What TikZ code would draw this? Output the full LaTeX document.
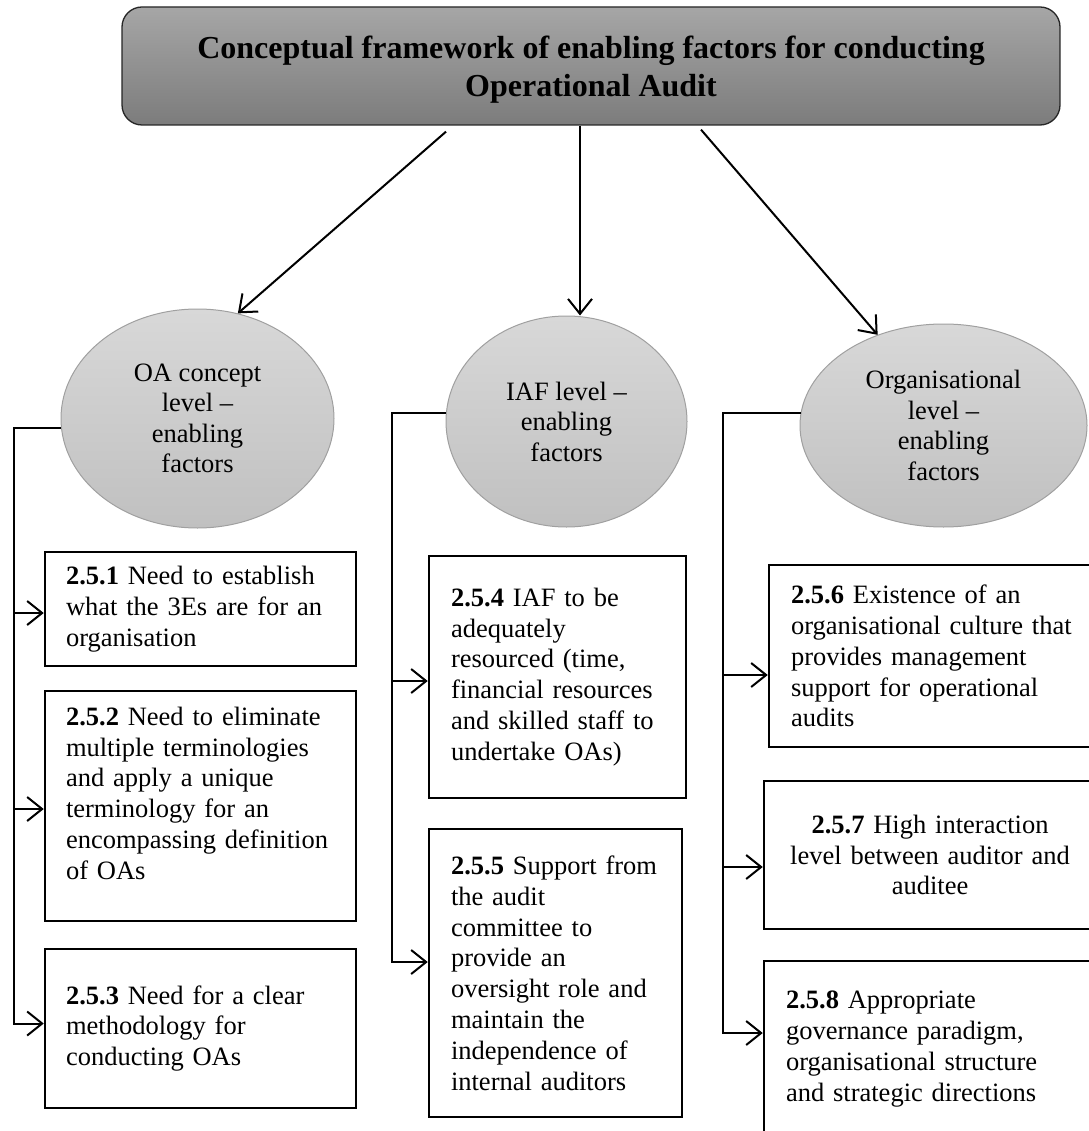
\documentclass[tikz,border=0pt]{standalone}
\usepackage{fontspec}
\setmainfont{Liberation Serif}
\usetikzlibrary{arrows.meta,calc,shapes.geometric}

\definecolor{titletop}{RGB}{166,166,166}
\definecolor{titlebot}{RGB}{124,124,124}
\definecolor{elltop}{RGB}{216,216,216}
\definecolor{ellbot}{RGB}{192,192,192}
\definecolor{ellline}{RGB}{160,160,160}

\tikzset{
  headline/.style={draw=black!85, line width=1.3pt, rounded corners=20pt,
    top color=titletop, bottom color=titlebot, align=center,
    font=\fontsize{32}{38}\selectfont\bfseries, inner sep=0pt},
  level/.style={ellipse, draw=ellline, line width=1pt, top color=elltop,
    bottom color=ellbot, align=center, inner sep=0pt,
    font=\fontsize{26.5}{30.5}\selectfont},
  factor/.style={draw=black, line width=2.5pt, fill=white, inner ysep=0pt,
    font=\fontsize{26.5}{30.8}\selectfont},
  conn/.style={draw=black, line width=2pt},
  arr/.style={conn, -{Straight Barb[length=15pt,width=24pt,line width=2pt]}},
}

\begin{document}
\begin{tikzpicture}[x=1pt,y=-1pt]
\useasboundingbox (0,0) rectangle (1088,1131);

% heading
\node[headline, minimum width=938pt, minimum height=118pt] (title) at (591,66)
  {\rule{0pt}{30pt}Conceptual framework of enabling factors for conducting\\Operational Audit};

% the three levels
\node[level, minimum width=273pt, minimum height=219pt] (e1) at (197.5,418.5)
  {OA concept\\level --\\enabling\\factors};
\node[level, minimum width=241pt, minimum height=211pt] (e2) at (566.5,421.5)
  {IAF level --\\enabling\\factors};
\node[level, minimum width=287pt, minimum height=203pt] (e3) at (943.5,425.5)
  {Organisational\\level --\\enabling\\factors};

% arrows from the heading to the levels
\coordinate (t1) at ($(title.south)+(-145,6)$);
\coordinate (t2) at ($(title.south)+(-11,0)$);
\coordinate (t3) at ($(title.south)+(110,4)$);
\draw[arr] (t1) -- (e1.69);
\draw[arr] (t2) -- (t2 |- e2.north);
\draw[arr] (t3) -- (e3.126);

% OA concept level factors
\node[factor, minimum width=311pt, minimum height=114pt, text width=269pt,
  inner xsep=21pt, align=left] (b1) at (200.5,609)
  {\textbf{2.5.1} Need to establish\\what the 3Es are for an\\organisation};
\node[factor, minimum width=311pt, minimum height=230pt, text width=269pt,
  inner xsep=21pt, align=left] (b2) at (200.5,806)
  {\textbf{2.5.2} Need to eliminate\\multiple terminologies\\and apply a unique\\terminology for an\\encompassing definition\\of OAs\\[-4.8pt]\mbox{}};
\node[factor, minimum width=311pt, minimum height=159pt, text width=269pt,
  inner xsep=21pt, align=left] (b3) at (200.5,1028.5)
  {\textbf{2.5.3} Need for a clear\\methodology for\\conducting OAs};

% IAF level factors
\node[factor, minimum width=257pt, minimum height=242pt, text width=213pt,
  inner xsep=22pt, align=left] (b4) at (557.5,677)
  {\textbf{2.5.4} IAF to be\\adequately\\resourced (time,\\financial resources\\and skilled staff to\\undertake OAs)};
\node[factor, minimum width=253pt, minimum height=288pt, text width=209pt,
  inner xsep=22pt, align=left] (b5) at (555.5,973)
  {\textbf{2.5.5} Support from\\the audit\\committee to\\provide an\\oversight role and\\maintain the\\independence of\\internal auditors};

% organisational level factors
\node[factor, minimum width=331pt, minimum height=182pt, text width=287pt,
  inner xsep=22pt, align=left] (b6) at (934.5,656)
  {\textbf{2.5.6} Existence of an\\organisational culture that\\provides management\\support for operational\\audits};
\node[factor, minimum width=332pt, minimum height=148pt, text width=300pt,
  inner xsep=16pt, align=center] (b7) at (930,855)
  {\textbf{2.5.7} High interaction\\level between auditor and\\auditee};
\node[factor, minimum width=336pt, minimum height=176pt, text width=292pt,
  inner xsep=22pt, align=left] (b8) at (932,1049)
  {\textbf{2.5.8} Appropriate\\governance paradigm,\\organisational structure\\and strategic directions};

% spines
\coordinate (sA) at (14,0);
\coordinate (sB) at (392,0);
\coordinate (sC) at (723,0);

% arrow targets on the boxes
\coordinate (p1) at ([yshift=-4pt]b1.west);
\coordinate (p2) at ([yshift=-3pt]b2.west);
\coordinate (p3) at ([yshift=5pt]b3.west);
\coordinate (p4) at ([yshift=-4pt]b4.west);
\coordinate (p5) at ([yshift=11pt]b5.west);
\coordinate (p6) at ([yshift=-19pt]b6.west);
\coordinate (p7) at ([yshift=-12pt]b7.west);
\coordinate (p8) at ([yshift=16pt]b8.west);

\draw[arr] (e1.184) -- (e1.184 -| sA) |- (p3);
\draw[arr] (p1 -| sA) -- (p1);
\draw[arr] (p2 -| sA) -- (p2);

\draw[arr] (e2.176) -- (e2.176 -| sB) |- (p5);
\draw[arr] (p4 -| sB) -- (p4);

\draw[arr] (e3.175) -- (e3.175 -| sC) |- (p8);
\draw[arr] (p6 -| sC) -- (p6);
\draw[arr] (p7 -| sC) -- (p7);
\end{tikzpicture}
\end{document}
